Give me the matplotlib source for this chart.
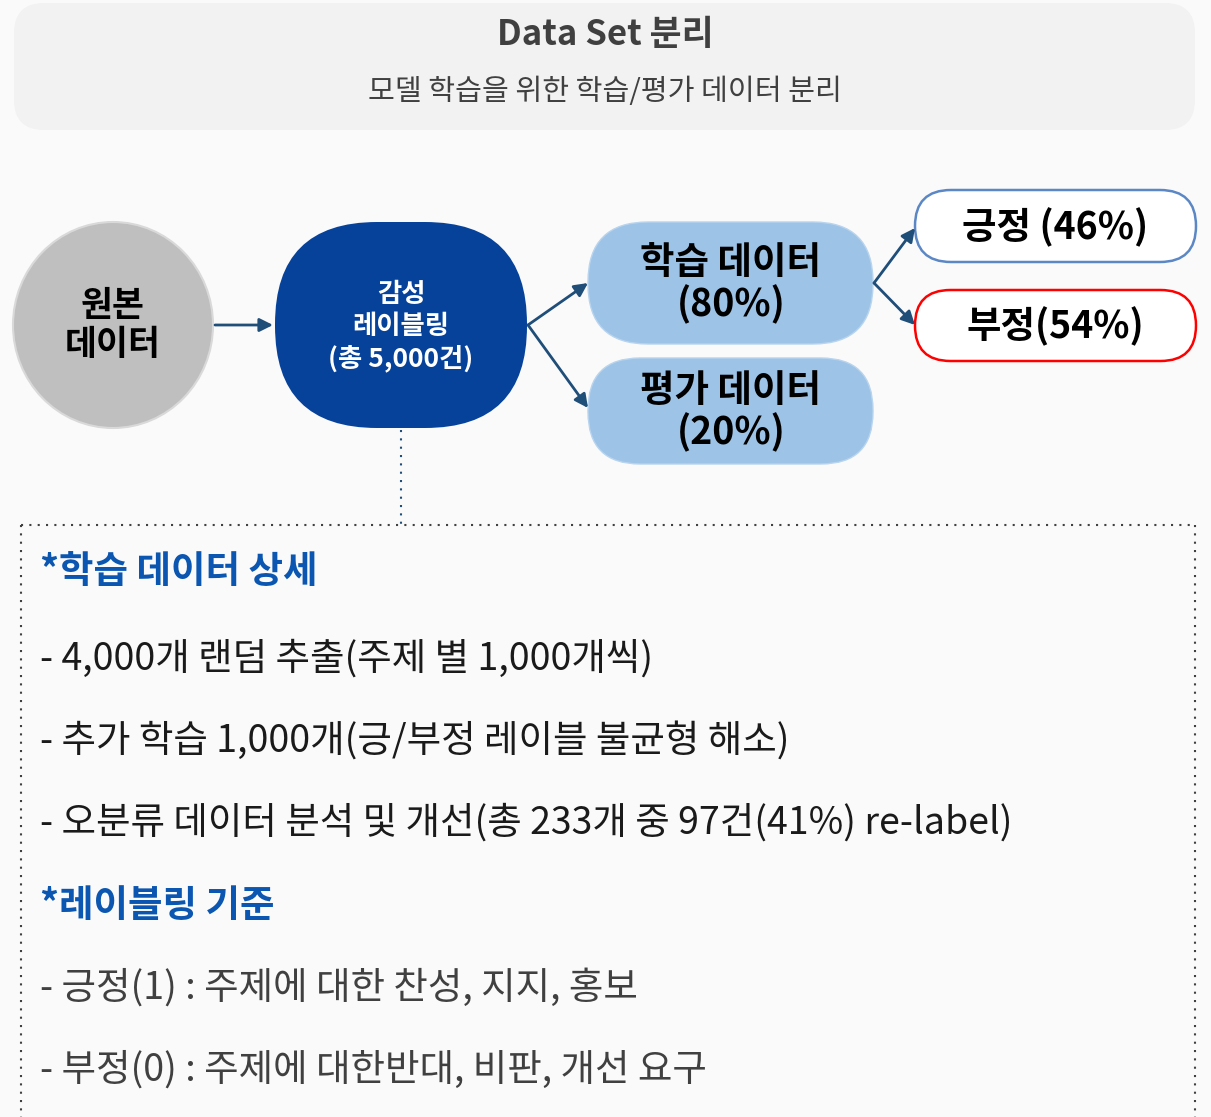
import matplotlib
matplotlib.use('Agg')
import matplotlib.pyplot as plt
from matplotlib.patches import FancyBboxPatch, Ellipse

plt.rcParams['font.family'] = ['Noto Sans CJK KR', 'DejaVu Sans']

title = 'Data Set 분리'
subtitle = '모델 학습을 위한 학습/평가 데이터 분리'
source_label = '원본\n데이터'
total_count = 5000
split_names = ['학습 데이터', '평가 데이터']
split_pct = [80, 20]
sentiment_names = ['긍정 ', '부정']
sentiment_pct = [46, 54]
detail_head = '*학습 데이터 상세'
detail_lines = ['- 4,000개 랜덤 추출(주제 별 1,000개씩)',
                '- 추가 학습 1,000개(긍/부정 레이블 불균형 해소)',
                '- 오분류 데이터 분석 및 개선(총 233개 중 97건(41%) re-label)']
rule_head = '*레이블링 기준'
rule_lines = ['- 긍정(1) : 주제에 대한 찬성, 지지, 홍보',
              '- 부정(0) : 주제에 대한반대, 비판, 개선 요구']

fig = plt.figure(figsize=(12.11, 11.17), dpi=100)
fig.patch.set_facecolor('#fafafa')
ax = fig.add_axes([0, 0, 1, 1])
ax.set_xlim(0, 1211)
ax.set_ylim(1117, 0)
ax.axis('off')

# header
ax.add_patch(FancyBboxPatch((14, 3), 1181, 127, boxstyle='round,pad=0,rounding_size=30',
                            fc='#f2f2f2', ec='none'))
ax.text(605, 35, title, ha='center', va='center', fontsize=25, fontweight='bold', color='#404040')
ax.text(605, 92, subtitle, ha='center', va='center', fontsize=21, color='#404040')

# source
ax.add_patch(Ellipse((113, 325), 200, 206, fc='#bfbfbf', ec='#d9d9d9', lw=1.5))
ax.text(113, 325, source_label, ha='center', va='center', fontsize=25, fontweight='bold',
        color='black', linespacing=1.12)

arrow = dict(arrowstyle='-|>', color='#1f4e79', lw=2, mutation_scale=20, shrinkA=0, shrinkB=0)
ax.annotate('', xy=(273, 325), xytext=(215, 325), arrowprops=arrow)

# labeling blob
ax.add_patch(FancyBboxPatch((275, 222), 252, 206, boxstyle='round,pad=0,rounding_size=102',
                            fc='#06429a', ec='none'))
ax.text(401, 327, '감성\n레이블링\n(총 {:,}건)'.format(total_count), ha='center', va='center',
        fontsize=19, fontweight='bold', color='white', linespacing=1.22)

# split
split_y = [(222, 344), (358, 464)]
split_tip = [283, 408]
for name, p, (y0, y1), tip in zip(split_names, split_pct, split_y, split_tip):
    ax.annotate('', xy=(588, tip), xytext=(528, 325), arrowprops=arrow)
    h = y1 - y0
    ax.add_patch(FancyBboxPatch((588, y0), 285, h,
                                boxstyle='round,pad=0,rounding_size=%f' % (h / 2 - 1),
                                fc='#9dc3e6', ec='#b8d4ee', lw=1))
    ax.text(731, (y0 + y1) / 2 + 1, '{}\n({}%)'.format(name, p), ha='center', va='center',
            fontsize=27, fontweight='bold', color='black', linespacing=1.08)

# sentiment
sent_y = [(190, 262), (290, 361)]
sent_tip = [228, 325]
sent_ec = ['#5b87c5', '#ff0000']
for name, p, (y0, y1), tip, ec in zip(sentiment_names, sentiment_pct, sent_y, sent_tip, sent_ec):
    ax.annotate('', xy=(915, tip), xytext=(874, 283), arrowprops=arrow)
    h = y1 - y0
    ax.add_patch(FancyBboxPatch((915, y0), 281, h,
                                boxstyle='round,pad=0,rounding_size=%f' % (h / 2),
                                fc='white', ec=ec, lw=1.8))
    ax.text(1055, (y0 + y1) / 2 + 1, '{}({}%)'.format(name, p), ha='center', va='center',
            fontsize=27, fontweight='bold', color='black')

# dotted connector and box
ax.plot([401, 401], [430, 525], ls=(0, (1, 3)), color='#1f4e79', lw=1.5)
ax.plot([21, 1195], [525, 525], ls=(0, (1, 3)), color='#404040', lw=1.5)
ax.plot([21, 21], [525, 1117], ls=(0, (1, 3)), color='#404040', lw=1.5)
ax.plot([1195, 1195], [525, 1117], ls=(0, (1, 3)), color='#404040', lw=1.5)

ax.text(40, 572, detail_head, ha='left', va='center', fontsize=27, fontweight='bold', color='#0b56b0')
for i, line in enumerate(detail_lines):
    ax.text(40, 659 + i * 82, line, ha='left', va='center', fontsize=27, color='#1a1a1a')
ax.text(40, 905, rule_head, ha='left', va='center', fontsize=27, fontweight='bold', color='#0b56b0')
for i, line in enumerate(rule_lines):
    ax.text(40, 988 + i * 82, line, ha='left', va='center', fontsize=27, color='#404040')

fig.savefig('out.png', dpi=100, facecolor=fig.get_facecolor())
